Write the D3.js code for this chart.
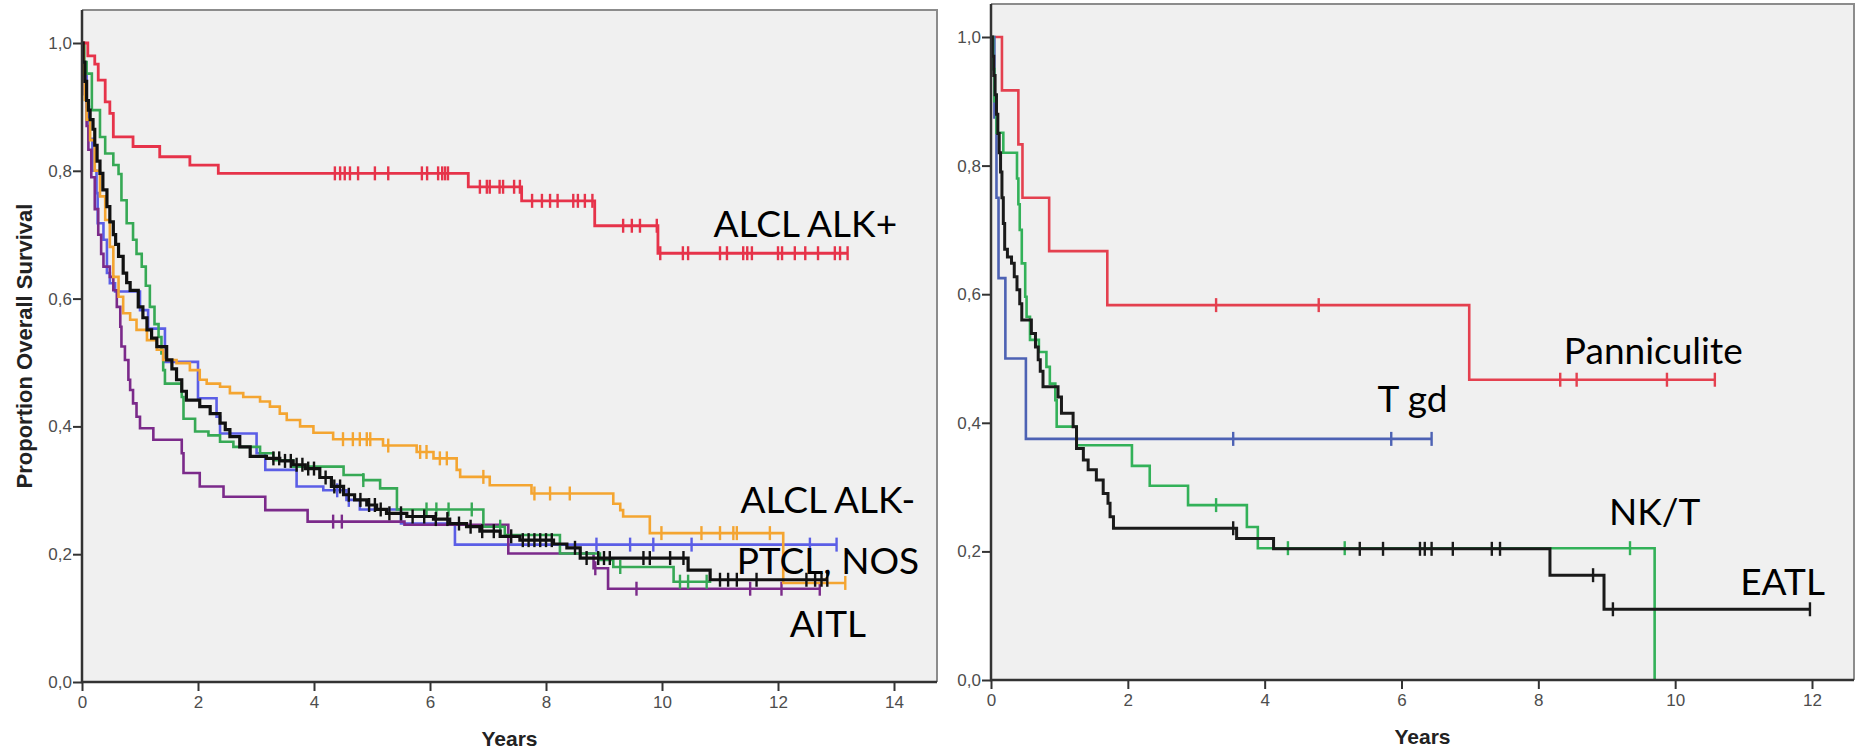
<!DOCTYPE html>
<html><head><meta charset="utf-8">
<script src="https://cdn.jsdelivr.net/npm/d3@7"></script>
<style>html,body{margin:0;padding:0;background:#fff;} svg{display:block;}</style>
</head><body><svg id="c" width="1858" height="752"></svg>
<script>
// ---------------- DATA ----------------
const yTicks = [0, 0.2, 0.4, 0.6, 0.8, 1.0];
const leftXTicks = [0, 2, 4, 6, 8, 10, 12, 14];
const rightXTicks = [0, 2, 4, 6, 8, 10, 12];

// Left panel series (time of drop, survival after drop, end of follow-up, censored times)
const redT = [0.10,0.22,0.28,0.40,0.48,0.54,0.88,1.34,1.86,2.35,6.66,7.58,8.84,9.93];
const redS = [0.980,0.967,0.942,0.908,0.890,0.853,0.838,0.822,0.809,0.796,0.775,0.753,0.714,0.671];
const redEnd = 13.2;
const redCens = [4.36,4.45,4.53,4.62,4.76,5.05,5.28,5.86,5.95,6.14,6.21,6.26,6.31,6.86,6.98,7.03,7.2,7.26,7.45,7.55,7.76,7.93,8.07,8.2,8.47,8.55,8.67,8.80,9.33,9.48,9.62,9.91,9.97,10.36,10.45,11.0,11.12,11.4,11.47,11.55,12.0,12.07,12.29,12.47,12.69,12.98,13.07,13.2];

const orangeT = [0.03,0.05,0.08,0.14,0.22,0.31,0.40,0.48,0.54,0.63,0.71,0.83,0.94,1.12,1.29,1.40,1.63,1.86,2.03,2.15,2.38,2.55,2.78,3.07,3.24,3.41,3.53,3.76,3.99,4.33,5.19,5.77,6.06,6.46,6.52,7.03,7.75,9.16,9.28,9.33,9.79,12.09];
const orangeS = [0.95,0.911,0.88,0.848,0.80,0.76,0.723,0.681,0.634,0.603,0.577,0.567,0.551,0.535,0.52,0.504,0.499,0.488,0.473,0.467,0.462,0.452,0.446,0.439,0.431,0.420,0.41,0.40,0.390,0.380,0.370,0.360,0.350,0.332,0.321,0.308,0.295,0.279,0.269,0.259,0.233,0.155];
const orangeEnd = 13.16;
const orangeCens = [4.5,4.67,4.79,4.91,4.97,5.28,5.83,5.94,6.17,6.29,6.92,7.8,8.07,8.41,9.99,10.68,11.0,11.23,11.29,11.86,13.16];

const greenT = [0.04,0.08,0.17,0.31,0.40,0.54,0.63,0.68,0.77,0.88,0.94,1.03,1.10,1.17,1.25,1.32,1.37,1.40,1.43,1.72,1.75,1.95,2.18,2.38,2.61,3.07,3.30,3.64,4.51,4.85,5.14,5.43,6.92,7.29,8.24,8.93,9.16,10.20];
const greenS = [0.97,0.952,0.895,0.853,0.827,0.809,0.795,0.754,0.718,0.692,0.670,0.650,0.62,0.587,0.56,0.54,0.514,0.488,0.467,0.446,0.412,0.392,0.386,0.376,0.368,0.358,0.347,0.337,0.324,0.316,0.303,0.270,0.243,0.230,0.201,0.191,0.180,0.157];
const greenEnd = 10.85;
const greenCens = [4.85,5.94,6.11,6.32,6.72,7.21,9.28,10.31,10.45,10.77];

const blueT = [0.03,0.08,0.12,0.18,0.25,0.27,0.37,0.43,0.48,0.57,1.0,1.14,1.43,2.0,2.32,2.38,3.01,3.16,3.70,4.16,4.56,4.79,5.50,6.43];
const blueS = [0.95,0.90,0.85,0.80,0.765,0.718,0.692,0.64,0.624,0.611,0.582,0.553,0.501,0.444,0.415,0.389,0.358,0.332,0.306,0.300,0.285,0.270,0.248,0.215];
const blueEnd = 13.01;
const blueCens = [4.4,4.6,8.87,9.45,9.85,10.51,12.55,13.01];

const purpleT = [0.02,0.05,0.08,0.11,0.16,0.22,0.28,0.33,0.37,0.48,0.54,0.60,0.66,0.68,0.74,0.80,0.83,0.88,0.94,1.0,1.23,1.72,1.75,2.03,2.44,3.16,3.89,5.56,7.35,8.82,9.07];
const purpleS = [0.96,0.92,0.87,0.833,0.79,0.74,0.70,0.67,0.65,0.634,0.613,0.587,0.556,0.525,0.504,0.473,0.457,0.436,0.415,0.397,0.379,0.358,0.327,0.306,0.290,0.269,0.251,0.246,0.201,0.178,0.146];
const purpleEnd = 12.72;
const purpleCens = [4.33,4.48,8.85,9.56,11.52,12.06,12.72];

const blackT = [0.02,0.05,0.08,0.11,0.14,0.19,0.22,0.26,0.31,0.36,0.43,0.48,0.54,0.58,0.63,0.71,0.77,0.83,0.97,1.05,1.12,1.20,1.29,1.46,1.55,1.63,1.72,1.80,2.03,2.21,2.38,2.47,2.55,2.72,2.90,3.18,3.41,3.64,3.85,4.10,4.30,4.51,4.70,4.91,5.08,5.25,5.60,6.06,6.34,6.63,6.86,7.21,7.55,8.13,8.36,8.59,10.45,10.83];
const blackS = [0.97,0.94,0.91,0.895,0.88,0.865,0.84,0.815,0.796,0.77,0.744,0.72,0.700,0.685,0.666,0.640,0.625,0.613,0.587,0.57,0.551,0.538,0.525,0.504,0.49,0.473,0.455,0.441,0.431,0.420,0.405,0.395,0.384,0.368,0.353,0.350,0.346,0.340,0.334,0.320,0.306,0.293,0.285,0.277,0.270,0.264,0.259,0.255,0.248,0.243,0.236,0.228,0.222,0.216,0.210,0.194,0.175,0.160];
const blackEnd = 12.85;
const blackCens = [3.3,3.4,3.5,3.6,3.7,3.8,3.9,4.0,4.2,4.35,4.45,4.6,4.8,4.95,5.05,5.15,5.3,5.5,5.7,5.9,6.1,6.3,6.5,6.7,6.9,7.1,7.4,7.6,7.7,7.8,7.9,8.0,8.1,8.5,8.7,8.9,9.0,9.1,9.68,9.79,10.14,10.37,11.0,11.14,11.29,11.63,12.49,12.64,12.75,12.85];

// Right panel series
const pannT = [0.16,0.40,0.46,0.85,1.70,6.99];
const pannS = [0.917,0.833,0.75,0.667,0.583,0.467];
const pannEnd = 10.58;
const pannCens = [3.29,4.79,8.32,8.56,9.88,10.58];

const tgdT = [0.05,0.08,0.11,0.21,0.51];
const tgdS = [0.875,0.75,0.625,0.5,0.375];
const tgdEnd = 6.44;
const tgdCens = [3.54,5.85,6.44];

const nktT = [0.03,0.05,0.08,0.18,0.38,0.40,0.42,0.45,0.50,0.52,0.57,0.70,0.81,0.86,0.94,0.96,1.25,2.06,2.32,2.88,3.74,3.90,9.70];
const nktS = [0.95,0.90,0.851,0.82,0.78,0.74,0.70,0.648,0.596,0.565,0.529,0.51,0.487,0.461,0.435,0.394,0.365,0.333,0.302,0.272,0.238,0.205,0.0];
const nktEnd = 9.70;
const nktCens = [3.29,4.34,5.17,9.34];

const eatlT = [0.02,0.04,0.06,0.08,0.10,0.12,0.14,0.16,0.18,0.20,0.24,0.30,0.34,0.38,0.42,0.45,0.59,0.65,0.69,0.72,0.76,0.98,1.03,1.20,1.25,1.35,1.42,1.54,1.64,1.71,1.74,1.79,3.59,4.13,8.17,8.96];
const eatlS = [0.97,0.94,0.91,0.88,0.85,0.82,0.79,0.75,0.71,0.67,0.658,0.648,0.627,0.607,0.585,0.56,0.539,0.518,0.498,0.48,0.456,0.44,0.415,0.394,0.36,0.342,0.327,0.311,0.29,0.275,0.254,0.236,0.220,0.204,0.163,0.110];
const eatlEnd = 11.97;
const eatlCens = [3.54,5.39,5.73,6.27,6.34,6.44,6.75,7.32,7.44,8.80,9.09,11.97];

const leftLabels = ["ALCL ALK+", "ALCL ALK-", "PTCL, NOS", "AITL"];
const rightLabels = ["Panniculite", "T gd", "NK/T", "EATL"];

// ---------------- DRAWING ----------------
const svg = d3.select("#c");
const fmt = d => d.toFixed(1).replace(".", ",");

function stepPoints(T, S, end) {
  const p = [[0, 1]];
  T.forEach((t, i) => p.push([t, S[i]]));
  p.push([end, S[S.length - 1]]);
  return p;
}
function survAt(T, S, t) {
  let s = 1;
  for (let i = 0; i < T.length; i++) if (T[i] <= t) s = S[i];
  return s;
}

function panel(cfg) {
  const g = svg.append("g");
  const x = d3.scaleLinear().domain([0, cfg.xMax]).range([cfg.x0, cfg.xMaxPx]);
  const y = d3.scaleLinear().domain([0, 1]).range([cfg.y1, cfg.yTopPx]);

  g.append("rect").attr("x", cfg.x0).attr("y", cfg.y0)
    .attr("width", cfg.x1 - cfg.x0).attr("height", cfg.y1 - cfg.y0)
    .attr("fill", "#f0f0f0");
  g.append("path").attr("d", `M${cfg.x0},${cfg.y0}H${cfg.x1}V${cfg.y1}`)
    .attr("fill", "none").attr("stroke", "#8c8c8c").attr("stroke-width", 2);

  const line = d3.line().x(d => x(d[0])).y(d => y(d[1])).curve(d3.curveStepAfter);
  cfg.series.forEach(s => {
    g.append("path").datum(stepPoints(s.T, s.S, s.end))
      .attr("d", line).attr("fill", "none")
      .attr("stroke", s.color).attr("stroke-width", s.w);
    g.append("g").selectAll("line").data(s.cens).join("line")
      .attr("x1", d => x(d)).attr("x2", d => x(d))
      .attr("y1", d => y(survAt(s.T, s.S, d)) - 7)
      .attr("y2", d => y(survAt(s.T, s.S, d)) + 7)
      .attr("stroke", s.color).attr("stroke-width", 2.4);
  });

  const ya = g.append("g").attr("transform", `translate(${cfg.x0},0)`)
    .call(d3.axisLeft(y).tickValues(yTicks).tickFormat(fmt).tickSize(9).tickPadding(1));
  const xa = g.append("g").attr("transform", `translate(0,${cfg.y1})`)
    .call(d3.axisBottom(x).tickValues(cfg.xTicks).tickFormat(d3.format("d")).tickSize(9).tickPadding(5));
  [ya, xa].forEach(a => {
    a.select(".domain").remove();
    a.selectAll(".tick line").attr("stroke", "#333").attr("stroke-width", 2);
    a.selectAll(".tick text").attr("fill", "#4d4d4d")
      .style("font-family", "'Liberation Sans', Arial, sans-serif").style("font-size", "17px");
  });
  g.append("path").attr("d", `M${cfg.x0},${cfg.y0}V${cfg.y1}H${cfg.x1}`)
    .attr("fill", "none").attr("stroke", "#333").attr("stroke-width", 2.5);

  g.append("text").attr("x", (cfg.x0 + cfg.x1) / 2).attr("y", cfg.titleY)
    .attr("text-anchor", "middle").attr("fill", "#222")
    .style("font-family", "'Liberation Sans', Arial, sans-serif")
    .style("font-size", "21px").style("font-weight", "bold").text("Years");

  cfg.labels.forEach(l => {
    g.append("text").attr("x", x(l.t)).attr("y", y(l.s))
      .attr("text-anchor", "middle").attr("fill", "#000")
      .style("font-family", "Lato, 'Open Sans', sans-serif")
      .style("font-size", "37px").text(l.text);
  });
  return { x, y };
}

panel({
  x0: 82, x1: 937, y0: 10, y1: 682, yTopPx: 43, xMax: 14, xMaxPx: 894,
  xTicks: leftXTicks, titleY: 746,
  series: [
    { T: blueT, S: blueS, end: blueEnd, cens: blueCens, color: "#5b5ee6", w: 2.6 },
    { T: purpleT, S: purpleS, end: purpleEnd, cens: purpleCens, color: "#7b2a8a", w: 2.6 },
    { T: greenT, S: greenS, end: greenEnd, cens: greenCens, color: "#36a955", w: 2.6 },
    { T: orangeT, S: orangeS, end: orangeEnd, cens: orangeCens, color: "#f4a531", w: 2.6 },
    { T: redT, S: redS, end: redEnd, cens: redCens, color: "#e6334a", w: 2.8 },
    { T: blackT, S: blackS, end: blackEnd, cens: blackCens, color: "#111", w: 3.2 }
  ],
  labels: [
    { text: leftLabels[0], t: 12.47, s: 0.696 },
    { text: leftLabels[1], t: 12.86, s: 0.264 },
    { text: leftLabels[2], t: 12.86, s: 0.169 },
    { text: leftLabels[3], t: 12.86, s: 0.070 }
  ]
});

panel({
  x0: 991, x1: 1854, y0: 4, y1: 680, yTopPx: 37, xMax: 12, xMaxPx: 1812,
  xTicks: rightXTicks, titleY: 744,
  series: [
    { T: pannT, S: pannS, end: pannEnd, cens: pannCens, color: "#e4404f", w: 2.6 },
    { T: tgdT, S: tgdS, end: tgdEnd, cens: tgdCens, color: "#4d62b4", w: 2.6 },
    { T: nktT, S: nktS, end: nktEnd, cens: nktCens, color: "#33b159", w: 2.6 },
    { T: eatlT, S: eatlS, end: eatlEnd, cens: eatlCens, color: "#1a1a1a", w: 3.0 }
  ],
  labels: [
    { text: rightLabels[0], t: 9.68, s: 0.491 },
    { text: rightLabels[1], t: 6.16, s: 0.417 },
    { text: rightLabels[2], t: 9.70, s: 0.241 },
    { text: rightLabels[3], t: 11.57, s: 0.132 }
  ]
});

svg.append("text").attr("transform", "translate(32,346) rotate(-90)")
  .attr("text-anchor", "middle").attr("fill", "#222")
  .style("font-family", "'Liberation Sans', Arial, sans-serif")
  .style("font-size", "22px").style("font-weight", "bold")
  .text("Proportion Overall Survival");
</script></body></html>
